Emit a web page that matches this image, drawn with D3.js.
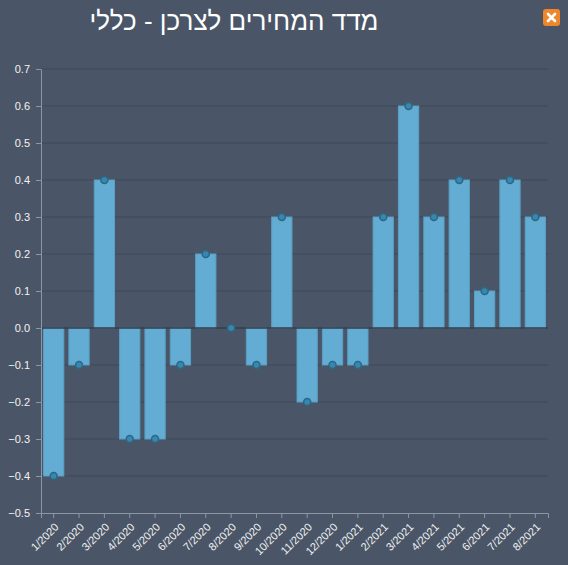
<!DOCTYPE html>
<html>
<head>
<meta charset="utf-8">
<script src="https://cdn.jsdelivr.net/npm/d3@7"></script>
<style>
  html, body { margin: 0; padding: 0; background: #4a5667; }
  svg { display: block; }
</style>
</head>
<body>
<svg width="568" height="565"></svg>
<script>
// data
var months = ["1/2020","2/2020","3/2020","4/2020","5/2020","6/2020","7/2020","8/2020","9/2020","10/2020",
              "11/2020","12/2020","1/2021","2/2021","3/2021","4/2021","5/2021","6/2021","7/2021","8/2021"];
var values = [-0.4,-0.1,0.4,-0.3,-0.3,-0.1,0.2,0.0,-0.1,0.3,-0.2,-0.1,-0.1,0.3,0.6,0.3,0.4,0.1,0.4,0.3];
var yTicks = [-0.5,-0.4,-0.3,-0.2,-0.1,0,0.1,0.2,0.3,0.4,0.5,0.6,0.7];
var title = "מדד המחירים לצרכן - כללי";

var svg = d3.select("svg"),
    width = +svg.attr("width"),
    height = +svg.attr("height");

var m = { left: 41, right: 548, top: 69, bottom: 513 };

svg.append("rect").attr("width", width).attr("height", height).attr("fill", "#4a5667");

var x = d3.scaleBand().domain(months).range([m.left, m.right]).paddingInner(0.2).paddingOuter(0.1);
var y = d3.scaleLinear().domain([-0.5, 0.7]).range([m.bottom, m.top]);

// grid
svg.append("g")
  .selectAll("line")
  .data(yTicks.filter(d => d !== -0.5))
  .join("line")
  .attr("x1", m.left).attr("x2", m.right)
  .attr("y1", d => y(d)).attr("y2", d => y(d))
  .attr("stroke", "#3d4858")
  .attr("stroke-width", 1);

// bars
svg.append("g")
  .selectAll("rect")
  .data(values)
  .join("rect")
  .attr("x", (d, i) => x(months[i]))
  .attr("width", x.bandwidth())
  .attr("y", d => y(Math.max(0, d)))
  .attr("height", d => Math.abs(y(d) - y(0)))
  .attr("fill", "#63acd3")
  .attr("stroke", "#5a9fc4")
  .attr("stroke-width", 1);

// zero line
svg.append("line")
  .attr("x1", m.left).attr("x2", m.right)
  .attr("y1", y(0)).attr("y2", y(0))
  .attr("stroke", "#36404e")
  .attr("stroke-width", 1.5);

// points
svg.append("g")
  .selectAll("circle")
  .data(values)
  .join("circle")
  .attr("cx", (d, i) => x(months[i]) + x.bandwidth() / 2)
  .attr("cy", d => y(d))
  .attr("r", 3.5)
  .attr("fill", "#3a87ad")
  .attr("stroke", "#2c6786")
  .attr("stroke-width", 1.5);

// y axis
var yAxis = svg.append("g")
  .attr("transform", "translate(" + m.left + ",0)")
  .call(d3.axisLeft(y).tickValues(yTicks).tickFormat(d3.format(".1f")).tickSizeOuter(0).tickSize(5).tickPadding(6));
yAxis.select(".domain").attr("stroke", "#8c97a6");
yAxis.selectAll(".tick line").attr("stroke", "#8c97a6");
yAxis.selectAll("text")
  .attr("fill", "#f2f2f2")
  .attr("font-family", "Liberation Sans, Arial, sans-serif")
  .attr("font-size", 11);

// x axis
var xAxis = svg.append("g")
  .attr("transform", "translate(0," + m.bottom + ")")
  .call(d3.axisBottom(x).tickSizeOuter(0).tickSize(5));
xAxis.select(".domain").attr("stroke", "#8c97a6");
xAxis.selectAll(".tick line").attr("stroke", "#8c97a6");
xAxis.selectAll("text")
  .attr("fill", "#f2f2f2")
  .attr("font-family", "Liberation Sans, Arial, sans-serif")
  .attr("font-size", 11)
  .attr("text-anchor", "end")
  .attr("x", 0).attr("y", 0)
  .attr("dy", "0.35em")
  .attr("transform", "translate(3,12) rotate(-45)");

// title
svg.append("text")
  .attr("x", 234)
  .attr("y", 30)
  .attr("text-anchor", "middle")
  .attr("fill", "#ffffff")
  .attr("font-family", "Liberation Sans, Arial, sans-serif")
  .attr("font-size", 26)
  .text(title);

// close button
var btn = svg.append("g").attr("transform", "translate(543,9)");
btn.append("rect").attr("width", 17).attr("height", 17).attr("rx", 3).attr("fill", "#f0862a");
btn.append("path")
  .attr("d", "M5,5 L12,12 M12,5 L5,12")
  .attr("stroke", "#ffffff")
  .attr("stroke-width", 2.6)
  .attr("stroke-linecap", "round");
</script>
</body>
</html>
